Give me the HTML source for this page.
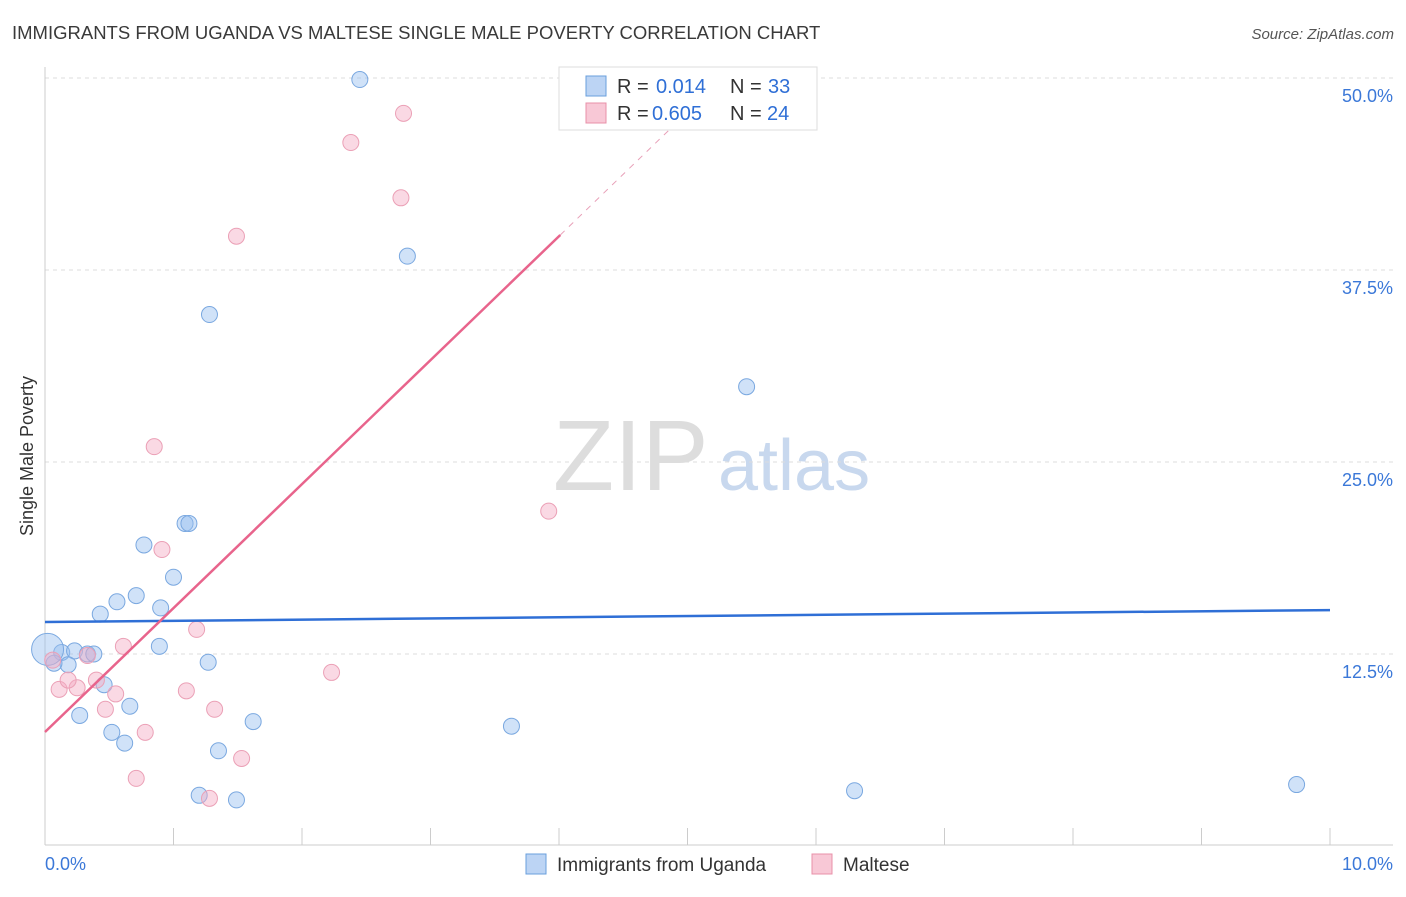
<!DOCTYPE html>
<html><head><meta charset="utf-8"><style>
body{margin:0;background:#fff;font-family:"Liberation Sans",sans-serif;}
svg text{font-family:"Liberation Sans",sans-serif;}
</style></head><body>
<svg id="c" width="1406" height="892">
<text x="12" y="39" font-size="18.5" fill="#3a3a3a">IMMIGRANTS FROM UGANDA VS MALTESE SINGLE MALE POVERTY CORRELATION CHART</text>
<text x="1394" y="39" font-size="15" fill="#555" text-anchor="end" font-style="italic">Source: ZipAtlas.com</text>
<text x="33" y="456" font-size="18" fill="#333" text-anchor="middle" transform="rotate(-90 33 456)">Single Male Poverty</text>
<text x="553" y="490" font-size="100" fill="#ddd" font-family="Liberation Serif">ZIP</text>
<text x="718" y="490" font-size="72" fill="#c8d8ee">atlas</text>
<g id="grid"></g><g id="marks"></g>
<g>
<rect x="559" y="67" width="258" height="63" fill="#fff" stroke="#ddd"/>
<rect x="586" y="76" width="20" height="20" fill="#bcd4f4" stroke="#6a9fdc"/>
<rect x="586" y="103" width="20" height="20" fill="#f8c8d6" stroke="#e890a8"/>
<text x="617" y="93" font-size="20" fill="#333">R =</text>
<text x="656" y="93" font-size="20" fill="#2f6fd6">0.014</text>
<text x="730" y="93" font-size="20" fill="#333">N =</text>
<text x="768" y="93" font-size="20" fill="#2f6fd6">33</text>
<text x="617" y="120" font-size="20" fill="#333">R =</text>
<text x="652" y="120" font-size="20" fill="#2f6fd6">0.605</text>
<text x="730" y="120" font-size="20" fill="#333">N =</text>
<text x="767" y="120" font-size="20" fill="#2f6fd6">24</text>
</g>
<g>
<rect x="526" y="854" width="20" height="20" fill="#bcd4f4" stroke="#6a9fdc"/>
<text x="557" y="871" font-size="19" fill="#333">Immigrants from Uganda</text>
<rect x="812" y="854" width="20" height="20" fill="#f8c8d6" stroke="#e890a8"/>
<text x="843" y="871" font-size="19" fill="#333">Maltese</text>
</g>
</svg>
<script>
const yTicks=[12.5,25,37.5,50];
const xTickLabels=["0.0%","10.0%"];
const blueX=[2.45,2.82,1.28,5.46,1.09,1.12,0.77,1.0,0.56,0.71,0.9,0.43,0.89,0.13,0.23,0.33,0.38,0.18,0.07,1.27,0.46,0.66,0.27,1.62,0.52,0.62,3.63,1.35,1.2,1.49,6.3,9.74,0.02];
const blueY=[49.9,38.4,34.6,29.9,21.0,21.0,19.6,17.5,15.9,16.3,15.5,15.1,13.0,12.6,12.7,12.5,12.5,11.8,11.9,11.96,10.5,9.1,8.5,8.1,7.4,6.7,7.8,6.2,3.3,3.0,3.6,4.0,12.8];
const pinkX=[2.79,2.38,2.77,1.49,0.85,3.92,0.91,1.18,0.61,2.23,0.33,0.06,0.11,0.25,0.4,0.55,1.1,0.47,1.32,0.78,1.53,0.71,1.28,0.18];
const pinkY=[47.7,45.8,42.2,39.7,26.0,21.8,19.3,14.1,13.0,11.3,12.4,12.1,10.2,10.3,10.8,9.9,10.1,8.9,8.9,7.4,5.7,4.4,3.1,10.8];
const blueLine=[14.58,15.36];
const pinkLine=[7.42,8.07];
const X=v=>45+v*128.5, Y=v=>846-v*15.36;
const ns="http://www.w3.org/2000/svg";
function mk(t,a,p){const e=document.createElementNS(ns,t);for(const k in a)e.setAttribute(k,a[k]);p.appendChild(e);return e;}
const g=document.getElementById('grid'),m=document.getElementById('marks');
yTicks.forEach(t=>{const l=mk('line',{x1:45,x2:1393,y1:Y(t),y2:Y(t),stroke:'#ddd','stroke-dasharray':'4,4'},g);

const tx=mk('text',{x:1393,y:Y(t)+24,'font-size':18,fill:'#3b78d8','text-anchor':'end'},g);tx.textContent=t.toFixed(1)+'%';
});
mk('line',{x1:45,x2:45,y1:67,y2:845,stroke:'#ccc'},g);
mk('line',{x1:45,x2:1393,y1:845,y2:845,stroke:'#ccc'},g);
for(let i=0;i<=10;i++){const t=mk('line',{x1:X(i),x2:X(i),y1:828,y2:845,stroke:'#ccc'},g);}
[[0,'start',45],[10,'end',1393]].forEach((o,i)=>{const tx=mk('text',{x:o[2],y:870,'font-size':18,fill:'#3b78d8','text-anchor':o[1]},g);tx.textContent=xTickLabels[i];
});
blueX.forEach((x,i)=>{const c=mk('circle',{cx:X(x),cy:Y(blueY[i]),r:i==32?16:8,fill:'rgba(150,190,240,0.45)',stroke:'#7aa8e0','stroke-width':1},m);
});
pinkX.forEach((x,i)=>{const c=mk('circle',{cx:X(x),cy:Y(pinkY[i]),r:8,fill:'rgba(245,170,195,0.45)',stroke:'#eba0b6','stroke-width':1},m);
});
const bl=mk('line',{x1:X(0),y1:Y(blueLine[0]),x2:X(10),y2:Y(blueLine[1]),stroke:'#2f6fd6','stroke-width':2.5},m);

const pe=4.01;
const pl=mk('line',{x1:X(0),y1:Y(pinkLine[0]),x2:X(pe),y2:Y(pinkLine[0]+pinkLine[1]*pe),stroke:'#e8648c','stroke-width':2.5},m);

const pd=mk('line',{x1:X(pe),y1:Y(pinkLine[0]+pinkLine[1]*pe),x2:X(5.1),y2:Y(pinkLine[0]+pinkLine[1]*5.1),stroke:'#e8a0b8','stroke-width':1,'stroke-dasharray':'6,6'},m);

</script>
</body></html>
